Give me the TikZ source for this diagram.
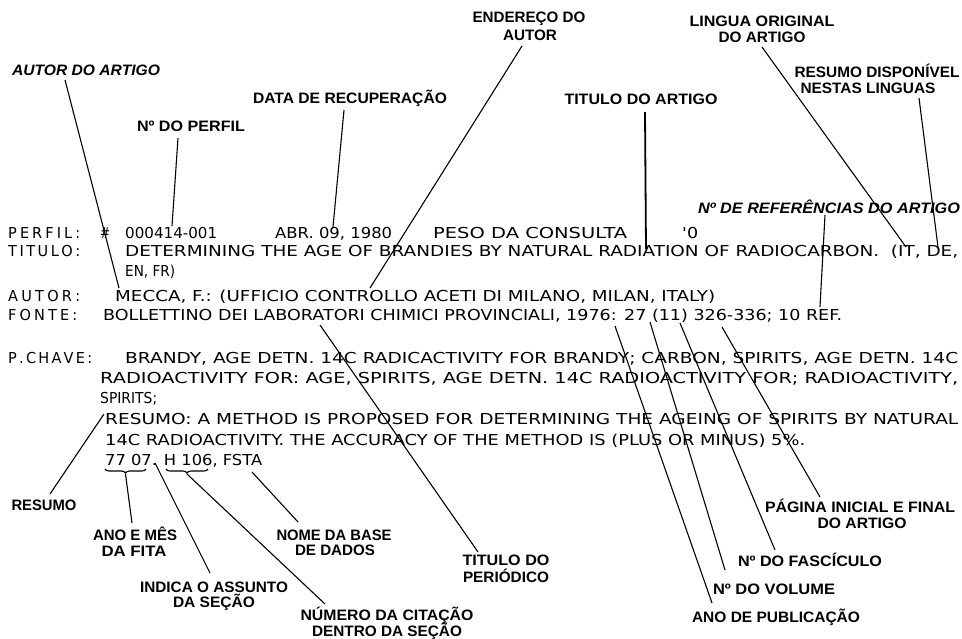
\documentclass[tikz,border=0pt]{standalone}
\usepackage{fontspec}
\setmainfont{Liberation Sans}
\newfontfamily\recfont{DejaVu Sans}
\usepackage{graphicx}
\usetikzlibrary{decorations.pathreplacing}
\newlength\fwlen
\newlength\fwht
\def\fwcap{11}
% scale text to a given width (pt) and to a fixed cap height \fwcap (pt)
\newcommand\fw[2]{\setbox0=\hbox{#2}\setbox2=\hbox{H}\fwlen=\wd0\relax\fwht=\ht2\relax\pgfmathsetmacro\fwsc{#1/\fwlen}\pgfmathsetmacro\fwsy{\fwcap/\fwht}\scalebox{\fwsc}[\fwsy]{\box0}}
\newcommand\spreadto[2]{\setbox2=\hbox{H}\fwht=\ht2\relax\pgfmathsetmacro\fwsy{\fwcap/\fwht}\scalebox{1}[\fwsy]{\makebox[#1pt][s]{#2}}}
\tikzset{
  rec/.style={inner sep=0pt, anchor=base west, font=\recfont\fontsize{14.5}{16}\selectfont\def\fwcap{11}},
  lab/.style={inner sep=0pt, anchor=base, font=\fontsize{14}{16}\selectfont\bfseries\def\fwcap{10.4}},
  ilab/.style={inner sep=0pt, anchor=base, font=\fontsize{14}{16}\selectfont\bfseries\itshape\def\fwcap{10.4}},
  con/.style={line width=1.1pt},
  brc/.style={line width=1.1pt, decorate, decoration={brace, mirror, amplitude=4pt}},
}
\begin{document}
\begin{tikzpicture}[x=1pt,y=-1pt]
\path[use as bounding box, fill=white] (0,0) rectangle (962,638);

% ---------- record text ----------
\node[rec] (k1) at (8,238) {\spreadto{72}{P\hfil E\hfil R\hfil F\hfil I\hfil L\hfil :}};
\node[rec] (hash) at (100,238) {\fw{10}{\#}};
\node[rec] (prof) at (125,238) {\fw{92}{000414-001}};
\node[rec] (date) at (275,238) {\fw{117}{ABR. 09, 1980}};
\node[rec] (peso) at (433,238) {\fw{194}{PESO DA CONSULTA}};
\node[rec] (pesov) at (682,238) {\fw{16}{'0}};

\node[rec] (k2) at (8,256) {\spreadto{72}{T\hfil I\hfil T\hfil U\hfil L\hfil O\hfil :}};
\node[rec] (tit1) at (125,256) {\fw{833}{DETERMINING THE AGE OF BRANDIES BY NATURAL RADIATION OF RADIOCARBON.\ \ (IT, DE,}};
\node[rec] (tit2) at (125,276) {\fw{50}{EN, FR)}};

\node[rec] (k3) at (8,301) {\spreadto{72}{A\hfil U\hfil T\hfil O\hfil R\hfil :}};
\node[rec] (aut) at (115,301) {\fw{600}{MECCA, F.: (UFFICIO CONTROLLO ACETI DI MILANO, MILAN, ITALY)}};

\node[rec] (k4) at (8,320.5) {\spreadto{69}{F\hfil O\hfil N\hfil T\hfil E\hfil :}};
\node[rec] (fon) at (103,320.5) {\fw{739}{BOLLETTINO DEI LABORATORI CHIMICI PROVINCIALI, 1976: 27 (11) 326-336; 10 REF.}};

\node[rec] (k5) at (8,363) {\spreadto{84}{P\hfil .\hfil C\hfil H\hfil A\hfil V\hfil E\hfil :}};
\node[rec] (pc1) at (125,363) {\fw{833}{BRANDY, AGE DETN. 14C RADICACTIVITY FOR BRANDY; CARBON, SPIRITS, AGE DETN. 14C}};
\node[rec] (pc2) at (100,383) {\fw{858}{RADIOACTIVITY FOR: AGE, SPIRITS, AGE DETN. 14C RADIOACTIVITY FOR; RADIOACTIVITY,}};
\node[rec] (pc3) at (100,403) {\fw{57}{SPIRITS;}};

\node[rec] (res1) at (105,424) {\fw{853}{RESUMO: A METHOD IS PROPOSED FOR DETERMINING THE AGEING OF SPIRITS BY NATURAL}};
\node[rec] (res2) at (105,445) {\fw{700}{14C RADIOACTIVITY. THE ACCURACY OF THE METHOD IS (PLUS OR MINUS) 5\%.}};
\node[rec] (res3) at (105,465) {\fw{157}{77 07. H 106, FSTA}};

% braces under the last line
\draw[brc] (105,469) -- (146,469);
\draw[brc] (166,469) -- (208,469);

% ---------- labels ----------
\node[ilab] (lAutor) at (86,75) {\fw{148}{AUTOR DO ARTIGO}};
\node[lab] (lPerfil) at (191,131) {\fw{108}{Nº DO PERFIL}};
\node[lab] (lData) at (350,103) {\fw{194}{DATA DE RECUPERAÇÃO}};
\node[lab] (lEnd1) at (529,22) {\fw{113}{ENDEREÇO DO}};
\node[lab] (lEnd2) at (530,40) {\fw{54}{AUTOR}};
\node[lab] (lTit) at (641,104) {\fw{153}{TITULO DO ARTIGO}};
\node[lab] (lLin1) at (762,26) {\fw{145}{LINGUA ORIGINAL}};
\node[lab] (lLin2) at (762,42) {\fw{87}{DO ARTIGO}};
\node[lab] (lRes1) at (877,77) {\fw{165}{RESUMO DISPONÍVEL}};
\node[lab] (lRes2) at (868,93) {\fw{135}{NESTAS LINGUAS}};
\node[ilab] (lRef) at (829,213) {\fw{262}{Nº DE REFERÊNCIAS DO ARTIGO}};

\node[lab] (lResumo) at (44,510) {\fw{65}{RESUMO}};
\node[lab] (lAno1) at (135,540) {\fw{84}{ANO E MÊS}};
\node[lab] (lAno2) at (134,556) {\fw{65}{DA FITA}};
\node[lab] (lInd1) at (214,592) {\fw{148}{INDICA O ASSUNTO}};
\node[lab] (lInd2) at (214,607) {\fw{82}{DA SEÇÃO}};
\node[lab] (lNome1) at (334,540) {\fw{115}{NOME DA BASE}};
\node[lab] (lNome2) at (335,555) {\fw{80}{DE DADOS}};
\node[lab] (lNum1) at (387,620) {\fw{173}{NÚMERO DA CITAÇÃO}};
\node[lab] (lNum2) at (387,636) {\fw{150}{DENTRO DA SEÇÃO}};
\node[lab] (lPer1) at (506,565) {\fw{87}{TITULO DO}};
\node[lab] (lPer2) at (506,582) {\fw{86}{PERIÓDICO}};
\node[lab] (lPag1) at (860,512) {\fw{190}{PÁGINA INICIAL E FINAL}};
\node[lab] (lPag2) at (862,528) {\fw{89}{DO ARTIGO}};
\node[lab] (lFas) at (810,566) {\fw{144}{Nº DO FASCÍCULO}};
\node[lab] (lVol) at (774,594) {\fw{122}{Nº DO VOLUME}};
\node[lab] (lPub) at (776,622) {\fw{168}{ANO DE PUBLICAÇÃO}};

% ---------- connector end points ----------
\coordinate (sAutor) at (65,80);   \coordinate (eAutor) at (119,288);
\coordinate (sPerfil) at (178,138); \coordinate (ePerfil) at (172,226);
\coordinate (sData) at (344,110);  \coordinate (eData) at (333,227);
\coordinate (sEnd) at (522,46);    \coordinate (eEnd) at (370,288);
\coordinate (sTit) at (645,112);   \coordinate (eTit) at (646,249);
\coordinate (sLin) at (762,47);    \coordinate (eLin) at (906,247);
\coordinate (sRes) at (919,98);    \coordinate (eRes) at (938,247);
\coordinate (sRef) at (825,215);   \coordinate (eRef) at (820,307);
\coordinate (sResumo) at (50,494); \coordinate (eResumo) at (104,414);
\coordinate (sAno) at (125.5,474); \coordinate (eAno) at (132,523);
\coordinate (sInd) at (155,463);   \coordinate (eInd) at (210,573);
\coordinate (sNum) at (187,474);   \coordinate (eNum) at (325,604);
\coordinate (sNome) at (252,472);  \coordinate (eNome) at (298,522);
\coordinate (sPer) at (320,325);   \coordinate (ePer) at (478,552);
\coordinate (sPub) at (615,326);   \coordinate (ePub) at (712,603);
\coordinate (sVol) at (650,322);   \coordinate (eVol) at (725,570);
\coordinate (sFas) at (680,323);   \coordinate (eFas) at (775,550);
\coordinate (sPag) at (722,327);   \coordinate (ePag) at (820,497);

% ---------- connectors ----------
\draw[con] (sAutor) -- (eAutor);
\draw[con] (sPerfil) -- (ePerfil);
\draw[con] (sData) -- (eData);
\draw[con] (sEnd) -- (eEnd);
\draw[con, line width=1.8pt] (sTit) -- (eTit);
\draw[con] (sLin) -- (eLin);
\draw[con] (sRes) -- (eRes);
\draw[con] (sRef) -- (eRef);
\draw[con] (sResumo) -- (eResumo);
\draw[con] (sAno) -- (eAno);
\draw[con] (sInd) -- (eInd);
\draw[con] (sNum) -- (eNum);
\draw[con] (sNome) -- (eNome);
\draw[con] (sPer) -- (ePer);
\draw[con] (sPub) -- (ePub);
\draw[con] (sVol) -- (eVol);
\draw[con] (sFas) -- (eFas);
\draw[con] (sPag) -- (ePag);
\end{tikzpicture}
\end{document}
